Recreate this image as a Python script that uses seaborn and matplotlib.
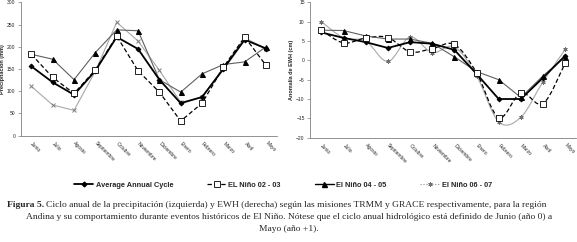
import numpy as np
import seaborn as sns
import matplotlib.pyplot as plt
from matplotlib.ticker import FixedLocator
from matplotlib.lines import Line2D
from matplotlib.path import Path
from matplotlib.patches import PathPatch

months = ["Junio", "Julio", "Agosto", "Septiembre", "Octubre", "Noviembre",
          "Diciembre", "Enero", "Febrero", "Marzo", "Abril", "Mayo"]

# precipitacion (mm)
prec_avg = [156, 120, 92, 146, 222, 195, 126, 73, 87, 150, 216, 196]
prec_0203 = [183, 131, 95, 148, 224, 146, 98, 33, 73, 154, 222, 158]
prec_0405 = [183, 172, 126, 187, 238, 236, 126, 98, 139, 160, 166, 200]
prec_0607 = [111, 69, 57, 145, 255, 213, 147, 75, 86, 153, 220, 196]

# anomalia EWH (cm)
ewh_avg = [7.2, 5.8, 4.7, 3.2, 4.7, 4.3, 2.7, -3.5, -10.0, -10.0, -4.5, 1.2]
ewh_0203 = [7.8, 4.5, 5.8, 5.9, 2.2, 3.0, 4.1, -3.2, -14.8, -8.4, -11.2, -0.7]
ewh_0405 = [7.8, 7.7, 6.3, 5.5, 5.5, 4.4, 0.9, -2.9, -5.0, -9.6, -4.0, 0.9]
ewh_0607 = [10.0, 5.8, 5.0, -0.3, 6.0, 2.0, 3.5, -4.0, -15.9, -14.7, -5.5, 2.8]

labels = ["Average Annual Cycle", "EL Niño 02 - 03", "El Niño 04 - 05", "El Niño 06 - 07"]

sns.set_style("white")
plt.rcParams["font.family"] = ["Liberation Sans", "DejaVu Sans"]

W, H = 577, 242
fig = plt.figure(figsize=(W / 100, H / 100), dpi=100)
ax1 = fig.add_axes([20.7 / W, 1 - 135.7 / H, 256 / W, 133.4 / H])
ax2 = fig.add_axes([310.3 / W, 1 - 137.7 / H, 266 / W, 135.4 / H])

x = np.arange(len(months))


def smooth_line(ax, xs, ys, **kw):
    # Excel-style smoothed line: bezier segments through the data points
    p = np.column_stack([xs, ys]).astype(float)
    n = len(p)
    verts, codes = [p[0]], [Path.MOVETO]
    for i in range(n - 1):
        p0 = p[i - 1] if i > 0 else p[i]
        p3 = p[i + 2] if i + 2 < n else p[i + 1]
        c1 = p[i] + (p[i + 1] - p0) / 6
        c2 = p[i + 1] - (p3 - p[i]) / 6
        verts += [c1, c2, p[i + 1]]
        codes += [Path.CURVE4] * 3
    ax.add_patch(PathPatch(Path(verts, codes), fill=False, **kw))


def draw(ax, avg, s1, s2, s3, smooth):
    if smooth:
        smooth_line(ax, x, s3, edgecolor="#a8a8a8", lw=0.8)
        sns.lineplot(x=x, y=s3, ax=ax, lw=0, marker=(6, 2, 0), ms=3.0,
                     mec="#707070", mew=0.7)
    else:
        sns.lineplot(x=x, y=s3, ax=ax, color="#a8a8a8", lw=0.8,
                     marker="x", ms=3.5, mec="#808080", mew=0.7)
    sns.lineplot(x=x, y=s2, ax=ax, color="#606060", lw=0.8,
                 marker="^", ms=3.6, mfc="black", mec="black")
    sns.lineplot(x=x, y=avg, ax=ax, color="black", lw=1.3,
                 marker="D", ms=2.4, mfc="black", mec="black")
    if smooth:
        smooth_line(ax, x, s1, edgecolor="black", lw=0.9, linestyle=(0, (3.5, 2)))
        sns.lineplot(x=x, y=s1, ax=ax, lw=0, marker="s", ms=4.2,
                     mfc="white", mec="black", mew=0.6)
    else:
        sns.lineplot(x=x, y=s1, ax=ax, color="black", lw=0.9, linestyle=(0, (3.5, 2)),
                     marker="s", ms=4.2, mfc="white", mec="black", mew=0.6)
    ax.set_xlim(-0.5, len(months) - 0.5)
    ax.set_xticks(x)
    ax.set_xticklabels(months, rotation=-45, ha="left", va="center",
                       rotation_mode="anchor", fontsize=3.6)
    ax.xaxis.set_minor_locator(FixedLocator(np.arange(-0.5, len(months), 1.0)))
    ax.tick_params(axis="x", which="major", length=0, pad=5)
    ax.tick_params(axis="x", which="minor", length=2, width=0.5, color="#808080", direction="out")
    ax.tick_params(axis="y", length=2, width=0.5, color="#808080", labelsize=3.6, pad=2, left=True)
    for s in ["top", "right"]:
        ax.spines[s].set_visible(False)
    for s in ["left", "bottom"]:
        ax.spines[s].set_color("#808080")
        ax.spines[s].set_linewidth(0.6)


draw(ax1, prec_avg, prec_0203, prec_0405, prec_0607, False)
ax1.set_ylim(0, 300)
ax1.set_yticks(range(0, 301, 50))
ax1.set_ylabel("Precipitación (mm)", fontsize=4.0, fontweight="bold", labelpad=1.5)

draw(ax2, ewh_avg, ewh_0203, ewh_0405, ewh_0607, True)
ax2.set_ylim(-20, 15)
ax2.set_yticks(range(-20, 16, 5))
ax2.set_ylabel("Anomalía de EWH (cm)", fontsize=4.0, fontweight="bold", labelpad=1.5)

handles = [
    Line2D([], [], color="black", lw=1.3, marker="D", ms=2.4),
    Line2D([], [], color="black", lw=0.9, linestyle=(0, (3.5, 2)), marker="s", ms=4.2,
           mfc="white", mec="black", mew=0.6),
    Line2D([], [], color="black", lw=1.0, marker="^", ms=3.6),
    Line2D([], [], color="#909090", lw=0.8, linestyle=":", marker=(6, 2, 0), ms=3.0,
           mec="#707070", mew=0.7),
]
fig.legend(handles, labels, loc="center", bbox_to_anchor=(283 / W, 1 - 185 / H), ncol=4,
           frameon=False, handlelength=2.6, handletextpad=0.3,
           columnspacing=4.6, prop={"weight": "bold", "size": 5.3})

cap_kw = dict(fontsize=6.8, family=["Liberation Serif", "DejaVu Serif"], va="center")
t1 = fig.text(7 / W, 1 - 205 / H, "Figura 5.", fontweight="bold", ha="left", **cap_kw)
fig.canvas.draw()
bb = t1.get_window_extent(fig.canvas.get_renderer())
fig.text(bb.x1 / W + 2 / W, 1 - 205 / H,
         "Ciclo anual de la precipitación (izquierda) y EWH (derecha) según las misiones "
         "TRMM y GRACE respectivamente, para la región", ha="left", **cap_kw)
fig.text(289 / W, 1 - 217 / H,
         "Andina y su comportamiento durante eventos históricos de El Niño. Nótese que el "
         "ciclo anual hidrológico está definido de Junio (año 0) a", ha="center", **cap_kw)
fig.text(289 / W, 1 - 229 / H, "Mayo (año +1).", ha="center", **cap_kw)

fig.savefig("out.png", dpi=100)
